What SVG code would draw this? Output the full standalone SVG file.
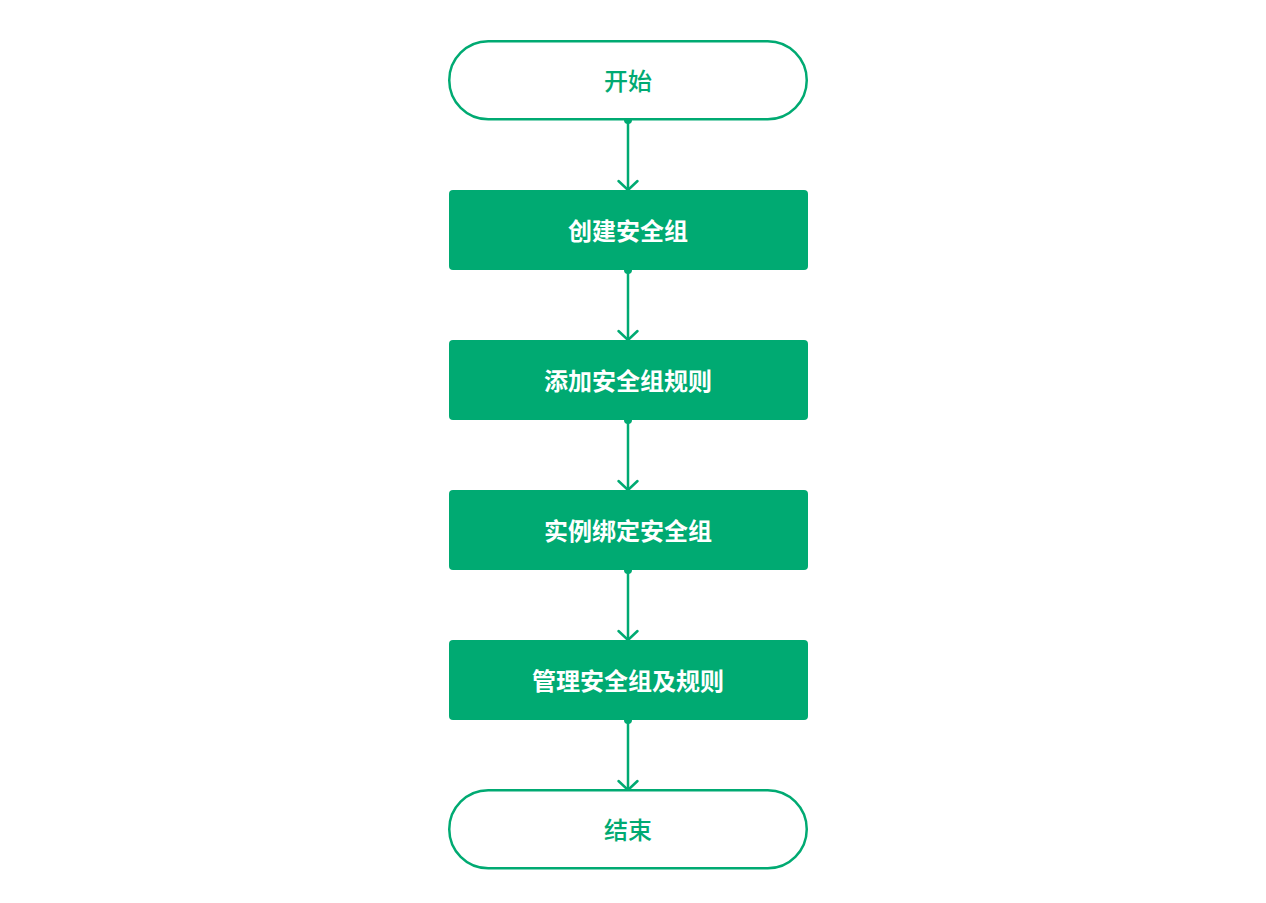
<svg xmlns="http://www.w3.org/2000/svg" width="1266" height="903" viewBox="0 0 1266 903">
<defs>
<style>
.term{fill:#ffffff;stroke:#00aa72;stroke-width:2.5}
.proc{fill:#00aa72}
.t{font-family:"Noto Sans CJK SC","Noto Sans",sans-serif;font-size:24px;text-anchor:middle;dominant-baseline:central}
.tg{fill:#00aa72;font-weight:500}
.tw{fill:#ffffff;font-weight:700}
.edge{stroke:#00aa72;stroke-width:2.5;fill:none}
.dot{fill:#00aa72}
</style>
<marker id="arr" viewBox="0 0 24 24" refX="12" refY="12" markerWidth="24" markerHeight="24" markerUnits="userSpaceOnUse" orient="auto">
<path d="M3,2.5 L12,12 L3,21.5" fill="none" stroke="#00aa72" stroke-width="2.5" stroke-linecap="round"/>
</marker>
</defs>
<rect width="1266" height="903" fill="#ffffff"/>
<g id="connectors">
<circle class="dot" cx="628" cy="120" r="4"/>
<line class="edge" x1="628" y1="120" x2="628" y2="190" marker-end="url(#arr)"/>
<circle class="dot" cx="628" cy="270" r="4"/>
<line class="edge" x1="628" y1="270" x2="628" y2="340" marker-end="url(#arr)"/>
<circle class="dot" cx="628" cy="420" r="4"/>
<line class="edge" x1="628" y1="420" x2="628" y2="490" marker-end="url(#arr)"/>
<circle class="dot" cx="628" cy="570" r="4"/>
<line class="edge" x1="628" y1="570" x2="628" y2="640" marker-end="url(#arr)"/>
<circle class="dot" cx="628" cy="720" r="4"/>
<line class="edge" x1="628" y1="720" x2="628" y2="790" marker-end="url(#arr)"/>
</g>
<g id="start">
<rect class="term" x="449.25" y="41.25" width="357.5" height="78" rx="39" ry="39"/>
<text class="t tg" x="628" y="79">开始</text>
</g>
<g id="create">
<rect class="proc" x="449" y="190" width="359" height="80" rx="4"/>
<text class="t tw" x="628" y="229">创建安全组</text>
</g>
<g id="addrules">
<rect class="proc" x="449" y="340" width="359" height="80" rx="4"/>
<text class="t tw" x="628" y="379">添加安全组规则</text>
</g>
<g id="bind">
<rect class="proc" x="449" y="490" width="359" height="80" rx="4"/>
<text class="t tw" x="628" y="529">实例绑定安全组</text>
</g>
<g id="manage">
<rect class="proc" x="449" y="640" width="359" height="80" rx="4"/>
<text class="t tw" x="628" y="679">管理安全组及规则</text>
</g>
<g id="end">
<rect class="term" x="449.25" y="790.25" width="357.5" height="78" rx="39" ry="39"/>
<text class="t tg" x="628" y="828">结束</text>
</g>
</svg>
